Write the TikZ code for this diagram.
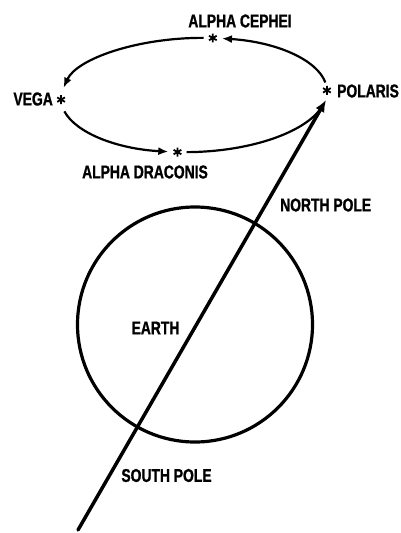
\documentclass[tikz,border=0pt]{standalone}
\usepackage{fontspec}
\newfontfamily\labfont[FakeStretch=0.75,FakeBold=1.2]{Liberation Sans}
\usetikzlibrary{arrows.meta}
\begin{document}
\begin{tikzpicture}[x=1pt,y=1pt,
  lab/.style={font=\labfont\bfseries\fontsize{18.5}{18.5}\selectfont, inner sep=0pt},
  starnode/.style={circle, inner sep=0pt, minimum size=8.5pt},
  starstroke/.style={line width=1.8pt},
  orbit/.style={line width=2.2pt, -{Latex[length=10pt,width=8pt]}},
  orbitplain/.style={line width=2.2pt},
  axisline/.style={line width=3.5pt, line cap=round, -{Latex[length=12pt,width=10pt]}},
  globe/.style={circle, draw, line width=3.2pt, minimum size=235pt, inner sep=0pt}]
\useasboundingbox (0,0) rectangle (401,-533);

% orbit of the pole (ellipse, slightly tilted)
\begin{scope}[shift={(194,-95)}, rotate=2]
  \node[starnode] (polaris)  at (0:133 and 57) {};
  \node[starnode] (cephei)   at (81:133 and 57) {};
  \node[starnode] (vega)     at (180:133 and 57) {};
  \node[starnode] (draconis) at (262:133 and 57) {};
  \coordinate (p1) at (8:133 and 57);
  \coordinate (c1) at (85:133 and 57);
  \coordinate (v1) at (192:133 and 57);
  \coordinate (d1) at (266:133 and 57);
  \draw[orbit] (p1) arc[start angle=8, end angle=77, x radius=133, y radius=57];
  \draw[orbit] (c1) arc[start angle=85, end angle=168, x radius=133, y radius=57];
  \draw[orbit] (v1) arc[start angle=192, end angle=258, x radius=133, y radius=57];
  \draw[orbitplain] (d1) arc[start angle=266, end angle=346, x radius=133, y radius=57];
\end{scope}
\foreach \s in {polaris,cephei,vega,draconis}{
  \draw[starstroke] (\s.90) -- (\s.270) (\s.30) -- (\s.210) (\s.150) -- (\s.330);
}

% star labels
\node[lab] (lcephei) at (240,-21) {ALPHA CEPHEI};
\node[lab, anchor=west] (lpolaris) at (337,-91) {POLARIS};
\node[lab, anchor=east] (lvega) at (53,-99) {VEGA};
\node[lab] (ldraconis) at (145,-172) {ALPHA DRACONIS};

% earth
\node[globe] (earth) at (195,-324.5) {};
\node[lab] (learth) at (155.5,-328) {EARTH};

% axis
\coordinate (spend) at (78,-530);
\coordinate (npend) at (326,-100);
\draw[axisline] (spend) -- (npend);

\node[lab, anchor=west] (lnorth) at (280,-205) {NORTH POLE};
\node[lab] (lsouth) at (166.5,-475.5) {SOUTH POLE};
\end{tikzpicture}
\end{document}
